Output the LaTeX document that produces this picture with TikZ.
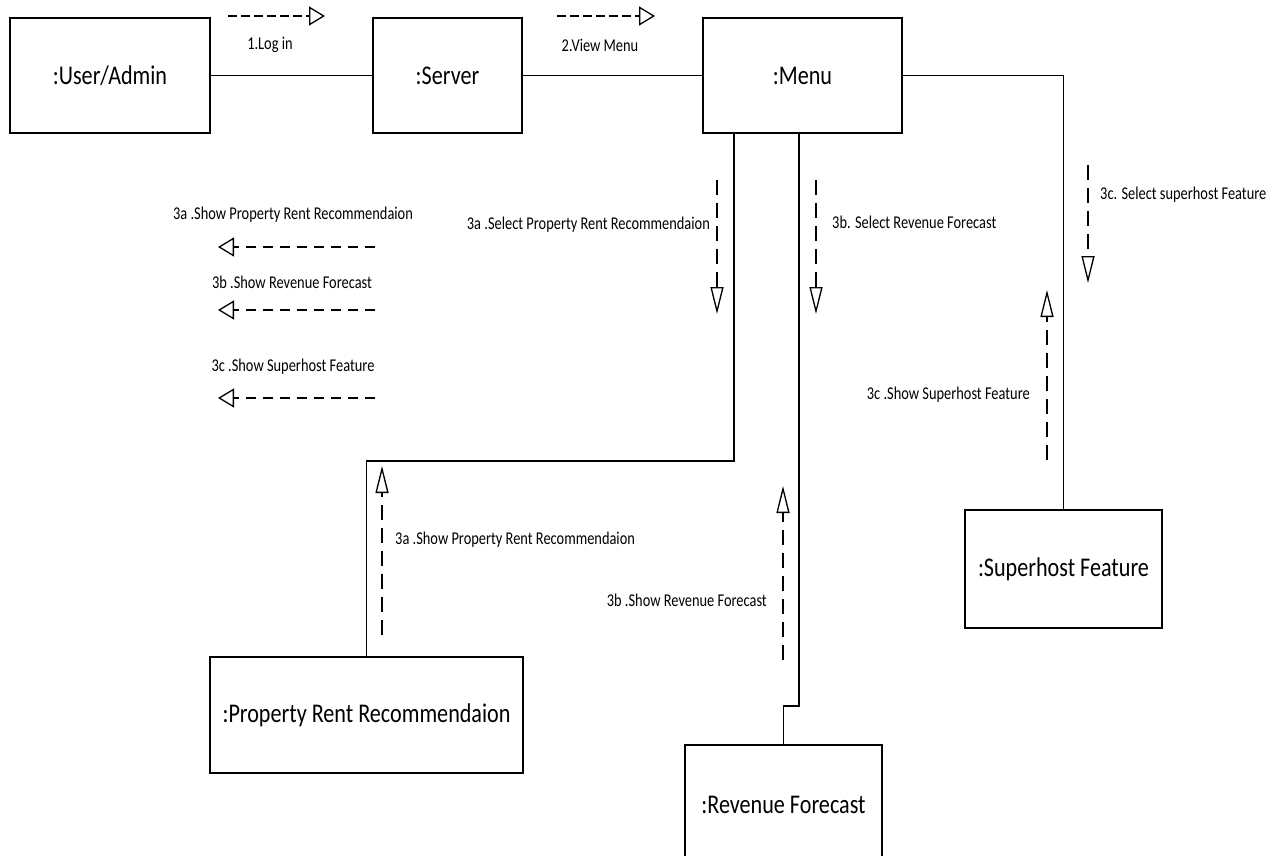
\documentclass[tikz,border=0pt]{standalone}
\usepackage{fontspec}
\setmainfont{Carlito}
\newfontfamily\boxfont[FakeStretch=0.82]{Carlito}
\newfontfamily\msgfont[FakeStretch=0.8]{Carlito}
\usetikzlibrary{arrows.meta}

\begin{document}
\begin{tikzpicture}[x=1pt,y=-1pt,
  objbox/.style={draw, line width=1.8pt, inner sep=0pt, font=\boxfont\fontsize{27}{30}\selectfont},
  conn/.style={line width=1.5pt},
  hmsg/.style={line width=1.3pt, dash pattern=on 9pt off 4pt,
    -{Triangle[open, length=16pt, width=19pt, line width=1.3pt]}},
  lmsg/.style={hmsg, dash pattern=on 10pt off 7pt},
  vmsg/.style={line width=1.3pt, dash pattern=on 15pt off 8pt,
    -{Triangle[open, length=27pt, width=13pt, line width=1.3pt]}},
  msglabel/.style={inner sep=0pt, font=\msgfont\fontsize{18}{20}\selectfont}]

\useasboundingbox (0,0) rectangle (1275,856);
\clip (0,0) rectangle (1275,856);

% objects
\node[objbox, minimum width=200pt, minimum height=115pt] (user)  at (110,75.5)   {:User/Admin};
\node[objbox, minimum width=149pt, minimum height=115pt] (server) at (447.5,75.5) {:Server};
\node[objbox, minimum width=199pt, minimum height=115pt] (menu)  at (802.5,75.5) {:Menu};
\node[objbox, minimum width=313pt, minimum height=116pt] (prop)  at (366.5,715)  {:Property Rent Recommendaion};
\node[objbox, minimum width=197pt, minimum height=118pt] (super) at (1063.5,569) {:Superhost Feature};
\node[objbox, minimum width=197pt, minimum height=122pt] (rev) at (783.5,806) {};
\node[inner sep=0pt, font=\boxfont\fontsize{27}{30}\selectfont] (revtext) at (783.5,805) {:Revenue Forecast};

% links
\draw[conn] (user.east) -- (server.west);
\draw[conn] (server.east) -- (menu.west);
\draw[conn] (menu.east) -| (super.north);
\draw[conn] ([xshift=32pt]menu.south west) -- ++(0,327) -| (prop.north);
\draw[conn] ([xshift=97pt]menu.south west) -- ++(0,572) -| (rev.north);

% message ends
\coordinate (a1s) at (228,16);   \coordinate (a1e) at (325,16);
\coordinate (a2s) at (557,16);   \coordinate (a2e) at (655,16);
\coordinate (l1s) at (375,247);  \coordinate (l1e) at (218,247);
\coordinate (l2s) at (375,310);  \coordinate (l2e) at (218,310);
\coordinate (l3s) at (375,398);  \coordinate (l3e) at (218,398);
\coordinate (s1s) at (717,180);  \coordinate (s1e) at (717,314);
\coordinate (s2s) at (816,180);  \coordinate (s2e) at (816,314);
\coordinate (s3s) at (1088,165); \coordinate (s3e) at (1088,283);
\coordinate (r3s) at (1047,460); \coordinate (r3e) at (1047,290);
\coordinate (r1s) at (382,635);  \coordinate (r1e) at (382,466);
\coordinate (r2s) at (783,660);  \coordinate (r2e) at (783,486);

% messages
\draw[hmsg] (a1s) -- (a1e);
\draw[hmsg] (a2s) -- (a2e);
\draw[lmsg] (l1s) -- (l1e);
\draw[lmsg] (l2s) -- (l2e);
\draw[lmsg] (l3s) -- (l3e);
\draw[vmsg] (s1s) -- (s1e);
\draw[vmsg] (s2s) -- (s2e);
\draw[vmsg] (s3s) -- (s3e);
\draw[vmsg] (r3s) -- (r3e);
\draw[vmsg] (r1s) -- (r1e);
\draw[vmsg] (r2s) -- (r2e);

% message labels
\node[msglabel] (t1)  at (270,45)  {1.Log in};
\node[msglabel] (t2)  at (600,45)  {2.View Menu};
\node[msglabel] (t3a) at (293,215) {3a .Show Property Rent Recommendaion};
\node[msglabel] (t3b) at (292,282) {3b .Show Revenue Forecast};
\node[msglabel] (t3c) at (293,367) {3c .Show Superhost Feature};
\node[msglabel, anchor=east] (u3a) at (710,225) {3a .Select Property Rent Recommendaion};
\node[msglabel, anchor=west] (u3b) at (832,222) {3b. Select Revenue Forecast};
\node[msglabel, anchor=west] (u3c) at (1100,195) {3c. Select superhost Feature};
\node[msglabel, anchor=east] (v3c) at (1030,395) {3c .Show Superhost Feature};
\node[msglabel, anchor=west] (v3a) at (395,540) {3a .Show Property Rent Recommendaion};
\node[msglabel, anchor=east] (v3b) at (767,600) {3b .Show Revenue Forecast};

\end{tikzpicture}
\end{document}
